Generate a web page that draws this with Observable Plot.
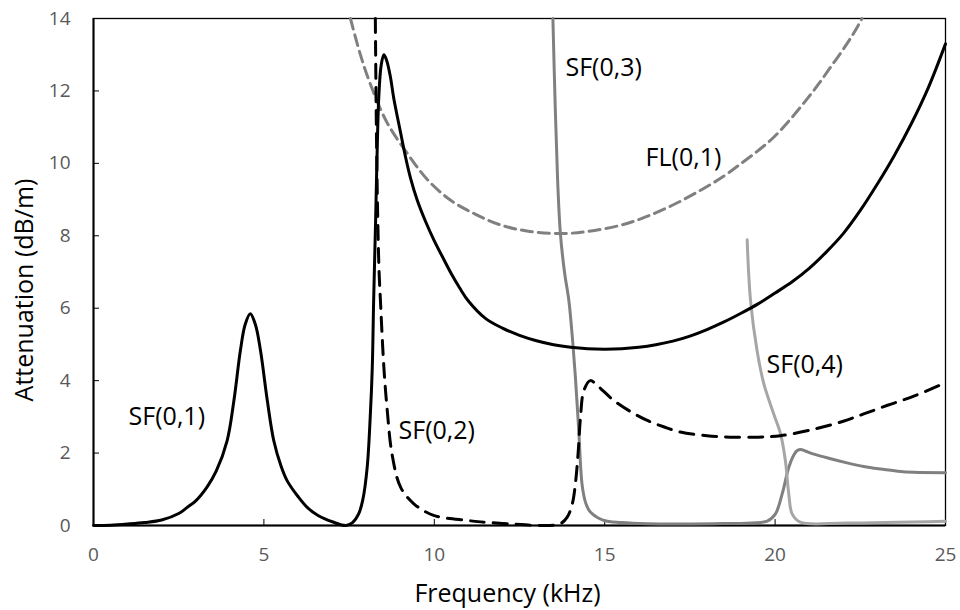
<!DOCTYPE html>
<html>
<head>
<meta charset="utf-8">
<script src="https://cdn.jsdelivr.net/npm/d3@7"></script>
<script src="https://cdn.jsdelivr.net/npm/@observablehq/plot@0.6"></script>
<style>
  html, body { margin: 0; padding: 0; background: #fff; }
  #chart { width: 960px; height: 610px; }
</style>
</head>
<body>
<div id="chart"></div>
<script>
// Tick values
const xTicks = [0, 5, 10, 15, 20, 25];
const yTicks = [0, 2, 4, 6, 8, 10, 12, 14];

// Series: [frequency (kHz), attenuation (dB/m)]
const sf01 = [
  [0, 0], [0.5, 0.01], [1.0, 0.04], [1.5, 0.08], [2.0, 0.15], [2.5, 0.33], [2.75, 0.5],
  [3.0, 0.68], [3.33, 1.06], [3.6, 1.5], [3.92, 2.34], [4.12, 3.45], [4.31, 4.83],
  [4.45, 5.55], [4.6, 5.85], [4.75, 5.55], [4.9, 4.83], [5.1, 3.45], [5.29, 2.34],
  [5.5, 1.65], [5.68, 1.24], [6.0, 0.8], [6.27, 0.5], [6.6, 0.27], [7.05, 0.09],
  [7.4, 0.0], [7.6, 0.08], [7.78, 0.32], [7.9, 0.7], [8.03, 1.6], [8.12, 3.0],
  [8.18, 4.36], [8.22, 6.2], [8.28, 8.5], [8.32, 10.2], [8.37, 11.8], [8.44, 12.7],
  [8.52, 13.0], [8.6, 12.85], [8.71, 12.4], [8.81, 11.8], [9.0, 10.9], [9.15, 10.2],
  [9.3, 9.6], [9.5, 8.98], [9.75, 8.38], [10.0, 7.86], [10.25, 7.4], [10.5, 6.95],
  [10.75, 6.55], [11.0, 6.2], [11.5, 5.72], [12.0, 5.45], [12.5, 5.25], [13.0, 5.1],
  [13.5, 4.99], [14.0, 4.92], [14.5, 4.88], [15.0, 4.87], [15.5, 4.88], [16.0, 4.92],
  [16.5, 4.99], [17.0, 5.09], [17.5, 5.23], [18.0, 5.41], [18.5, 5.62], [19.0, 5.86],
  [19.5, 6.12], [20.0, 6.42], [20.5, 6.73], [21.0, 7.1], [21.5, 7.55], [22.0, 8.06],
  [22.5, 8.7], [23.0, 9.43], [23.5, 10.22], [24.0, 11.1], [24.5, 12.1], [25, 13.3]
];
const sf02 = [
  [8.27, 14], [8.3, 11.0], [8.34, 8.5], [8.38, 7.0], [8.42, 6.2], [8.52, 4.37], [8.62, 3.17],
  [8.76, 1.97], [9.01, 1.06], [9.4, 0.6], [9.98, 0.28], [10.96, 0.14], [11.36, 0.1],
  [12.3, 0.04], [13.31, 0.0], [13.7, 0.05], [13.9, 0.23], [14.05, 0.6], [14.14, 1.15],
  [14.22, 2.0], [14.29, 2.99], [14.39, 3.73], [14.58, 4.0], [14.8, 3.85], [15.27, 3.45],
  [15.75, 3.15], [16.25, 2.9], [16.75, 2.72], [17.22, 2.58], [18.0, 2.48], [18.69, 2.44],
  [19.5, 2.44], [20.16, 2.48], [21.14, 2.66], [22.0, 2.88], [22.6, 3.08], [23.3, 3.32],
  [24.07, 3.57], [24.85, 3.88], [25, 3.94]
];
const sf03 = [
  [13.48, 14], [13.55, 11.5], [13.62, 9.5], [13.7, 8.06], [13.82, 7.0], [13.95, 6.2],
  [14.05, 5.2], [14.14, 4.1], [14.24, 2.6], [14.34, 1.1], [14.45, 0.6], [14.58, 0.37],
  [14.97, 0.14], [15.5, 0.08], [16.25, 0.05], [18.2, 0.05], [19.3, 0.07], [19.77, 0.12],
  [20.01, 0.32], [20.21, 0.88], [20.4, 1.6], [20.55, 1.95], [20.65, 2.07], [20.75, 2.1],
  [20.9, 2.05], [21.14, 1.97], [21.6, 1.85], [22.11, 1.73], [22.6, 1.63], [23.09, 1.56],
  [23.6, 1.5], [24.07, 1.47], [25, 1.46]
];
const sf04 = [
  [19.18, 7.89], [19.28, 6.2], [19.47, 4.83], [19.67, 3.91], [19.96, 3.08], [20.16, 2.53],
  [20.3, 1.8], [20.4, 0.88], [20.5, 0.32], [20.74, 0.09], [22.1, 0.07], [25, 0.12]
];
const fl01 = [
  [7.54, 14], [7.8, 13.1], [8.08, 12.3], [8.6, 11.15], [9.25, 10.22], [9.8, 9.55],
  [10.48, 8.98], [11.2, 8.6], [11.94, 8.3], [12.8, 8.12], [13.7, 8.06], [14.5, 8.12],
  [15.46, 8.29], [16.2, 8.52], [17.0, 8.85], [17.8, 9.25], [18.5, 9.65], [18.98, 9.98],
  [19.5, 10.35], [19.96, 10.72], [20.45, 11.22], [20.94, 11.78], [21.3, 12.22],
  [21.63, 12.66], [22.0, 13.15], [22.31, 13.6], [22.55, 14]
];

// Annotation labels
const labelText = ["SF(0,1)", "SF(0,2)", "SF(0,3)", "FL(0,1)", "SF(0,4)"];
const labelF = [1.03, 8.95, 13.85, 16.2, 19.75];
const labelV = [3.0, 2.62, 12.62, 10.14, 4.42];
const labels = labelText.map((t, i) => ({text: t, f: labelF[i], v: labelV[i]}));

const xTitle = "Frequency (kHz)";
const yTitle = "Attenuation (dB/m)";

const lineOpts = {x: d => d[0], y: d => d[1], curve: "catmull-rom", strokeLinejoin: "round"};

const chart = Plot.plot({
  width: 960,
  height: 610,
  marginLeft: 93,
  marginRight: 15,
  marginTop: 18,
  marginBottom: 85,
  style: {fontFamily: "'Open Sans', sans-serif", fontSize: "19px", background: "#fff", overflow: "visible"},
  x: {domain: [0, 25]},
  y: {domain: [0, 14]},
  marks: [
    // inward ticks
    Plot.axisX({ticks: xTicks, tickSize: 6, dy: -6, fill: "none", label: null, stroke: "#000"}),
    Plot.axisY({ticks: yTicks, tickSize: 6, dx: 6, fill: "none", label: null, stroke: "#000"}),
    // tick labels
    Plot.axisX({ticks: xTicks, tickSize: 0, tickPadding: 22, fill: "#595959", fontSize: 19, label: null}),
    Plot.axisY({ticks: yTicks, tickSize: 0, tickPadding: 23, fill: "#595959", fontSize: 19, label: null}),
    Plot.frame({stroke: "#000", strokeWidth: 1.3}),
    Plot.ruleX([0], {stroke: "#000", strokeWidth: 2}),
    Plot.ruleY([0], {stroke: "#000", strokeWidth: 2}),
    // curves
    Plot.line(fl01, {...lineOpts, stroke: "#808080", strokeWidth: 3, strokeDasharray: "11,6"}),
    Plot.line(sf03, {...lineOpts, stroke: "#808080", strokeWidth: 3}),
    Plot.line(sf04, {...lineOpts, stroke: "#a6a6a6", strokeWidth: 3}),
    Plot.line(sf02, {...lineOpts, stroke: "#000", strokeWidth: 3, strokeDasharray: "14,9"}),
    Plot.line(sf01, {...lineOpts, stroke: "#000", strokeWidth: 3}),
    // labels
    Plot.text(labels, {x: "f", y: "v", text: "text", textAnchor: "start", lineAnchor: "middle", fontSize: 25, fill: "#000"}),
    // axis titles
    Plot.text([xTitle], {text: d => d, frameAnchor: "bottom", textAnchor: "middle", dx: -12, dy: 68, fontSize: 25, fill: "#000", lineAnchor: "middle"}),
    Plot.text([yTitle], {text: d => d, frameAnchor: "left", textAnchor: "middle", dx: -69, dy: 18, rotate: -90, fontSize: 25, fill: "#000", lineAnchor: "middle"})
  ]
});
document.getElementById("chart").appendChild(chart);
</script>
</body>
</html>
